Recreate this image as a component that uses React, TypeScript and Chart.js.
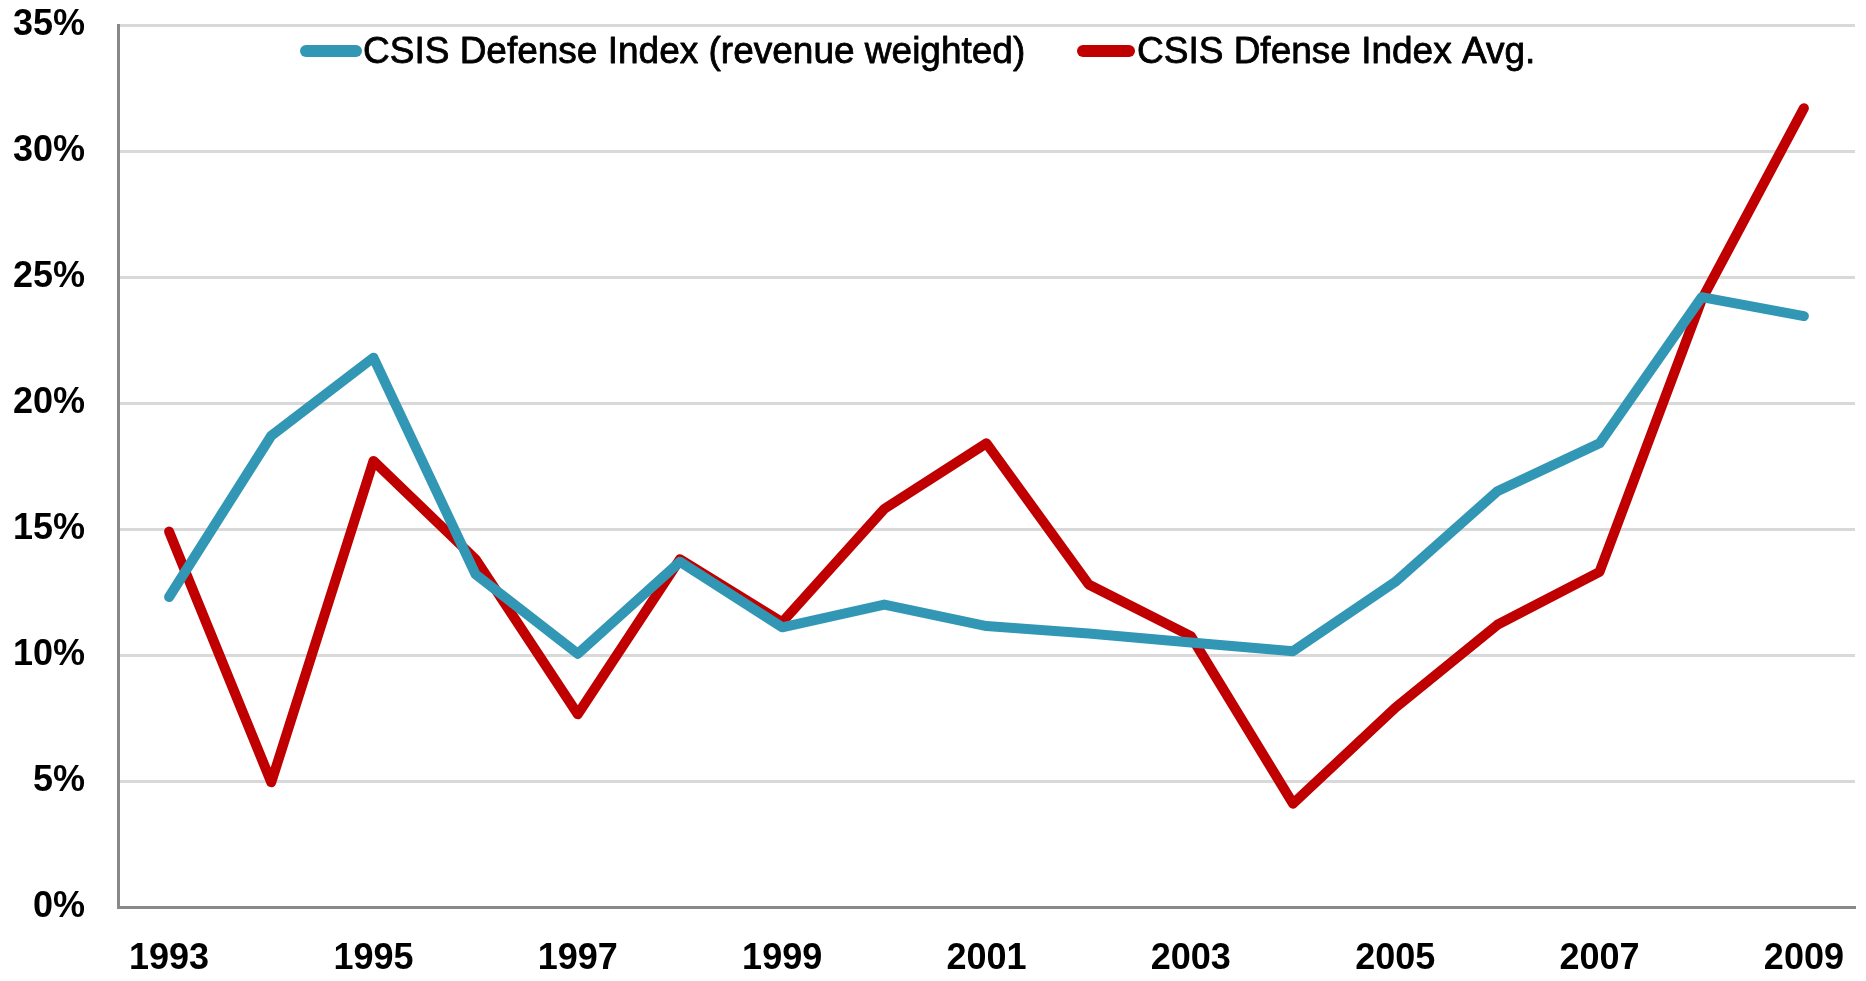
import React, { useEffect, useRef } from "react";
import { Chart, registerables } from "chart.js";

Chart.register(...registerables);

const years: string[] = [
  "1993", "1994", "1995", "1996", "1997", "1998", "1999", "2000", "2001",
  "2002", "2003", "2004", "2005", "2006", "2007", "2008", "2009",
];

const revenueWeighted: number[] = [
  12.3, 18.7, 21.8, 13.2, 10.05, 13.7, 11.1, 12.0, 11.15, 10.85, 10.5, 10.15,
  12.9, 16.5, 18.4, 24.2, 23.45,
];

const indexAvg: number[] = [
  14.9, 4.95, 17.7, 13.8, 7.65, 13.8, 11.3, 15.8, 18.4, 12.8, 10.75, 4.1, 7.9,
  11.2, 13.3, 24.1, 31.7,
];

const seriesNames: string[] = [
  "CSIS Defense Index (revenue weighted)",
  "CSIS Dfense Index Avg.",
];

const BLUE = "#3297B5";
const RED = "#C00000";
const FONT = "'Liberation Sans', Arial, Helvetica, sans-serif";

const legendPlugin = {
  id: "insideLegend",
  afterDatasetsDraw(chart: any) {
    const ctx = chart.ctx;
    const items = [
      { x0: 306, x1: 356, tx: 363, color: BLUE, label: seriesNames[0] },
      { x0: 1083, x1: 1129, tx: 1137, color: RED, label: seriesNames[1] },
    ];
    const y = 51;
    ctx.save();
    items.forEach((it) => {
      ctx.beginPath();
      ctx.lineCap = "round";
      ctx.lineWidth = 12;
      ctx.strokeStyle = it.color;
      ctx.moveTo(it.x0, y);
      ctx.lineTo(it.x1, y);
      ctx.stroke();
      ctx.fillStyle = "#000000";
      ctx.strokeStyle = "#000000";
      ctx.lineWidth = 0.8;
      ctx.lineJoin = "round";
      ctx.font = `37px ${FONT}`;
      ctx.textAlign = "left";
      ctx.textBaseline = "middle";
      ctx.fillText(it.label, it.tx, y + 2);
      ctx.strokeText(it.label, it.tx, y + 2);
    });
    ctx.restore();
  },
};

export default function App() {
  const canvasRef = useRef<HTMLCanvasElement | null>(null);

  useEffect(() => {
    if (!canvasRef.current) return;
    const chart = new Chart(canvasRef.current, {
      type: "line",
      data: {
        labels: years,
        datasets: [
          {
            label: seriesNames[0],
            data: revenueWeighted,
            borderColor: BLUE,
            backgroundColor: BLUE,
            borderWidth: 10,
            pointRadius: 0,
            tension: 0,
            borderCapStyle: "round",
            borderJoinStyle: "round",
          },
          {
            label: seriesNames[1],
            data: indexAvg,
            borderColor: RED,
            backgroundColor: RED,
            borderWidth: 10,
            pointRadius: 0,
            tension: 0,
            borderCapStyle: "round",
            borderJoinStyle: "round",
          },
        ],
      },
      options: {
        animation: false,
        responsive: false,
        maintainAspectRatio: false,
        layout: { padding: { top: 25, right: 11, left: 0, bottom: 0 } },
        plugins: {
          legend: { display: false },
          tooltip: { enabled: false },
        },
        scales: {
          x: {
            offset: true,
            grid: {
              display: true,
              drawOnChartArea: false,
              drawTicks: true,
              tickLength: 30,
              color: "rgba(0,0,0,0)",
              tickColor: "rgba(0,0,0,0)",
            },
            border: { display: true, color: "#898989", width: 3 },
            ticks: {
              autoSkip: false,
              maxRotation: 0,
              padding: 0,
              color: "#000000",
              font: { family: FONT, size: 36, weight: "bold" },
              callback: (_v: any, i: number) => (i % 2 === 0 ? years[i] : ""),
            },
            afterFit: (axis: any) => {
              axis.height = 74;
            },
          },
          y: {
            min: 0,
            max: 35,
            grid: {
              color: "#D9D9D9",
              lineWidth: 3,
              drawTicks: true,
              tickLength: 33,
              tickColor: "rgba(0,0,0,0)",
            },
            border: { display: true, color: "#898989", width: 3 },
            ticks: {
              stepSize: 5,
              padding: 0,
              color: "#000000",
              font: { family: FONT, size: 36, weight: "bold" },
              callback: (v: any) => `${v}%`,
            },
            afterFit: (axis: any) => {
              axis.width = 118;
            },
          },
        },
      },
      plugins: [legendPlugin],
    });
    return () => chart.destroy();
  }, []);

  return (
    <div style={{ position: "fixed", left: 0, top: 0, width: 1866, height: 981, background: "#ffffff" }}>
      <canvas ref={canvasRef} width={1866} height={981} style={{ display: "block" }} />
    </div>
  );
}
